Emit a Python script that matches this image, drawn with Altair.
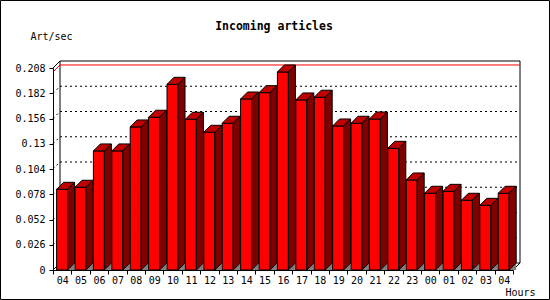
import altair as alt
import pandas as pd

# ---- data ----
hours = ["04", "05", "06", "07", "08", "09", "10", "11", "12", "13", "14", "15", "16",
         "17", "18", "19", "20", "21", "22", "23", "00", "01", "02", "03", "04"]
values = [0.0831, 0.0852, 0.1226, 0.1226, 0.1473, 0.1573, 0.1912, 0.1552, 0.1418, 0.1511,
          0.1761, 0.1826, 0.2039, 0.1751, 0.1779, 0.1483, 0.1511, 0.1555, 0.1253, 0.0927,
          0.0790, 0.0810, 0.0718, 0.0666, 0.0790]
y_ticks = [0, 0.026, 0.052, 0.078, 0.104, 0.13, 0.156, 0.182, 0.208]

# ---- geometry (pixels -> data units) ----
W, H = 460, 202
N = len(hours)
STEP = W / N
TOP = y_ticks[-1]
PX_Y = H / TOP
DX = 7 / STEP          # 3D depth in x units
DY = 7 / PX_Y          # 3D depth in y units
FL = 3.6 / STEP        # front face start inside band
FR = 14.6 / STEP       # front face end inside band
FONT = "DejaVu Sans Mono"

xs = alt.Scale(domain=[0, N], nice=False, zero=False)
ys = alt.Scale(domain=[0, TOP], nice=False, zero=False)

bars = pd.DataFrame({"idx": list(range(N)), "hour": hours, "value": values})
bars["x"] = bars["idx"] + FL
bars["x2"] = bars["idx"] + FR
bars["y"] = bars["value"]
bars["y2"] = 0.0

top_rows, side_rows, tri_rows = [], [], []
for i, v in enumerate(values):
    l, r = i + FL, i + FR
    top_rows += [dict(bar=i, y=v, x=l, x2=r), dict(bar=i, y=v + DY, x=l + DX, x2=r + DX)]
    side_rows += [dict(bar=i, x=r, y=v, y2=0), dict(bar=i, x=r + DX, y=v + DY, y2=DY)]
    tri_rows += [dict(bar=i, x=r, y=0, y2=0), dict(bar=i, x=r + DX, y=DY, y2=0)]
top_df = pd.DataFrame(top_rows)
side_df = pd.DataFrame(side_rows)
tri_df = pd.DataFrame(tri_rows)

grid_rows = []
for v in y_ticks[1:-1]:
    grid_rows.append(dict(x=DX, x2=N + DX, y=v + DY, y2=v + DY))
    grid_rows.append(dict(x=0, x2=DX, y=v, y2=v + DY))
grid_df = pd.DataFrame(grid_rows)

frame_df = pd.DataFrame([
    dict(x=DX, x2=N + DX, y=TOP + DY, y2=TOP + DY),
    dict(x=0, x2=DX, y=TOP, y2=TOP + DY),
    dict(x=DX, x2=DX, y=DY, y2=TOP + DY),
    dict(x=N + DX, x2=N + DX, y=DY, y2=TOP + DY),
    dict(x=N, x2=N + DX, y=0, y2=DY),
    dict(x=0, x2=DX, y=0, y2=DY),
    dict(x=DX, x2=N + DX, y=DY, y2=DY),
])

vmax = max(values)
red_df = pd.DataFrame([
    dict(x=0, x2=DX, y=vmax, y2=vmax + DY),
    dict(x=DX, x2=N + DX, y=vmax + DY, y2=vmax + DY),
])

label_df = pd.DataFrame({"t": ["Incoming articles"]})

hour_arr = "[" + ",".join("'%s'" % h for h in hours) + "]"

x_axis = alt.Axis(
    values=list(range(N + 1)), title="Hours", grid=False, zindex=1,
    labelExpr="datum.value < %d ? %s[datum.value] : ''" % (N, hour_arr),
    labelOffset=STEP / 2, labelFlush=False, labelOverlap=False,
    tickSize=4, labelPadding=1,
    titleAngle=0, titleAlign="left", titleBaseline="middle",
    titleX=452, titleY=22.5)
y_axis = alt.Axis(
    values=y_ticks, labelExpr="format(datum.value, '.3~f')", title="Art/sec",
    grid=False, zindex=1, labelOverlap=False, labelFlush=False,
    tickSize=4, labelPadding=4,
    titleAngle=0, titleAlign="left", titleBaseline="middle",
    titleX=-23, titleY=-31.5)

X = alt.X("x:Q", scale=xs, axis=x_axis)
Y = alt.Y("y:Q", scale=ys, axis=y_axis, stack=False)


def seg_layer(df, color, dash=None):
    kw = dict(color=color, strokeWidth=1)
    if dash:
        kw["strokeDash"] = dash
    return alt.Chart(df).mark_rule(**kw).encode(x=X, x2="x2:Q", y=Y, y2="y2:Q")


grid = seg_layer(grid_df, "black", [2, 3])
frame = seg_layer(frame_df, "black")
red = seg_layer(red_df, "#ff0000")

tri = alt.Chart(tri_df).mark_area(fill="#808080", strokeWidth=0).encode(
    x=X, y=Y, y2="y2:Q", detail="bar:N")

front = alt.Chart(bars).mark_rect(fill="#ff0000", stroke="black", strokeWidth=1).encode(
    x=X, x2="x2:Q", y=Y, y2="y2:Q")

top = alt.Chart(top_df).mark_area(orient="horizontal", fill="#c00000",
                                   stroke="black", strokeWidth=1).encode(
    y=Y, x=X, x2="x2:Q", detail="bar:N")

side = alt.Chart(side_df).mark_area(fill="#800000", stroke="black", strokeWidth=1).encode(
    x=X, y=Y, y2="y2:Q", detail="bar:N")

title = alt.Chart(label_df).mark_text(font=FONT, fontSize=11.5, fontWeight="bold",
                                      align="center", baseline="middle", color="black").encode(
    x=alt.value(221), y=alt.value(-41.3), text="t:N")

border = alt.Chart(label_df).mark_rect(filled=False, stroke="black", strokeWidth=1).encode(
    x=alt.value(-52.5), x2=alt.value(496.5), y=alt.value(-67.5), y2=alt.value(231.5))

chart = alt.layer(grid, frame, red, tri, front, top, side, title, border).properties(
    width=W, height=H,
    autosize=alt.AutoSizeParams(type="none"),
    padding={"left": 53, "top": 68, "right": 37, "bottom": 30},
    background="white",
).configure_view(strokeWidth=0).configure_axis(
    labelFont=FONT, labelFontSize=10, labelColor="black",
    titleFont=FONT, titleFontSize=10, titleFontWeight="normal", titleColor="black",
    tickColor="black", domainColor="black", tickWidth=1, domainWidth=1,
)

chart.save("out.html", embed_options={"renderer": "svg", "actions": False})
